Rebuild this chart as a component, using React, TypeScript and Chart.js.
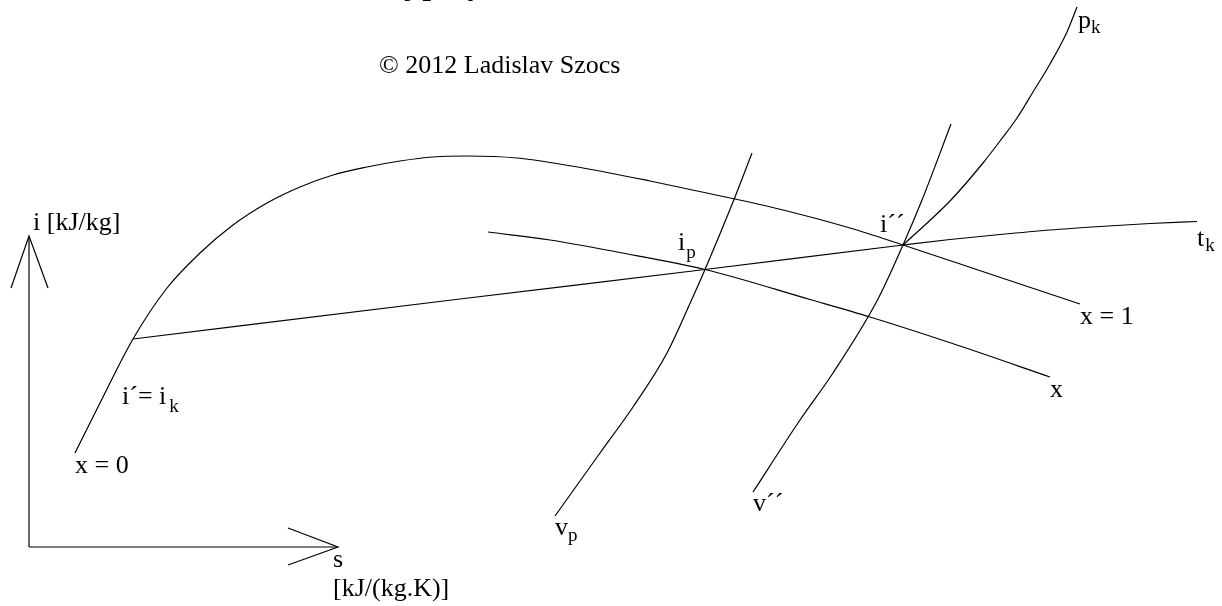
import React, { useEffect, useRef } from "react";
import { Chart, registerables } from "chart.js";

Chart.register(...registerables);

type P = { x: number; y: number };
const pts = (arr: number[][]): P[] => arr.map(([x, y]) => ({ x, y }));

// s-axis range and i-axis range of the schematic (arbitrary units)
const S_RANGE = [0, 1222];
const I_RANGE = [0, 606];

// saturation dome: x = 0 (left branch) and x = 1 (right branch)
const domeCurve = [
  [75, 153], [100, 203], [133, 267], [167, 318], [200, 353], [233, 381],
  [267, 403], [300, 419], [333, 431], [367, 439], [400, 445], [433, 449],
  [467, 450], [517, 448], [583, 438], [650, 425], [735, 407],
  [783, 396], [850, 378], [903, 361], [990, 332], [1080, 302],
];
// isotherm / isobar t_k (wet region straight, superheated curved)
const tkLine = [
  [133, 267], [460, 307], [705, 336.5], [903, 361], [950, 366.5],
  [1000, 371.5], [1050, 376], [1100, 379.5], [1150, 382.5], [1197, 384.5],
];
// constant quality line x
const xLine = [
  [488, 374], [550, 366], [617, 354], [705, 336.5], [810, 306.5],
  [870, 289], [960, 260], [1050, 229],
];
// isochore v_p
const vpLine = [
  [555, 90], [600, 153], [633, 199], [667, 253], [692, 307],
  [705, 336.5], [735, 409], [752, 453],
];
// isochore v''
const vSecLine = [
  [753, 114], [800, 186], [833, 233], [878, 307], [903, 361],
  [922, 406], [951, 482],
];
// isobar p_k in superheated region
const pkLine = [
  [903, 361], [950, 405], [983, 443], [1000, 465], [1017, 488],
  [1033, 514], [1050, 542], [1067, 574], [1077, 599],
];
// coordinate axes with arrows
const iAxis = [[29, 59], [29, 370]];
const iArrow = [[11, 318], [29, 370], [48, 318]];
const sAxis = [[29, 59], [338, 59]];
const sArrow = [[288, 78], [338, 59], [288, 41]];

// labels: [text, subscript, s, i, subOffset, subGap]
const labels: [string, string, number, number, number, number][] = [
  ["i [kJ/kg]", "", 33, 376, 0, 0],
  ["x = 0", "", 75, 133, 0, 0],
  ["i\u00B4= i", "k", 122, 202, 8, 3],
  ["s", "", 333, 39, 0, 0],
  ["[kJ/(kg.K)]", "", 333, 10, 0, 0],
  ["i", "p", 678, 356, 8, 1],
  ["i\u00B4\u00B4", "", 880, 374, 0, 0],
  ["p", "k", 1078, 578, 5, 0],
  ["t", "k", 1197, 360, 5, 1],
  ["x = 1", "", 1080, 282, 0, 0],
  ["x", "", 1050, 209, 0, 0],
  ["v", "p", 555, 71, 6, 0],
  ["v\u00B4\u00B4", "", 753, 95, 0, 0],
  ["\u00A9 2012 Ladislav Szocs", "", 379, 533, 0, 0],
];
const titleText = "Stav mokrej pary";
const titlePos = [258, 611.5];

const FONT = "'Liberation Serif', 'Times New Roman', serif";

const labelPlugin = {
  id: "diagramLabels",
  afterDatasetsDraw(chart: any) {
    const { ctx, scales } = chart;
    const xs = scales.x;
    const ys = scales.y;
    ctx.save();
    ctx.fillStyle = "#000";
    ctx.textBaseline = "alphabetic";
    ctx.textAlign = "left";
    ctx.font = `bold 30px ${FONT}`;
    ctx.fillText(titleText, xs.getPixelForValue(titlePos[0]), ys.getPixelForValue(titlePos[1]));
    for (const [text, sub, s, i, off, gap] of labels) {
      const px = xs.getPixelForValue(s);
      const py = ys.getPixelForValue(i);
      ctx.font = `26px ${FONT}`;
      ctx.fillText(text, px, py);
      if (sub) {
        const w = ctx.measureText(text).width;
        ctx.font = `19px ${FONT}`;
        ctx.fillText(sub, px + w + gap, py + off);
      }
    }
    ctx.restore();
  },
};

export default function App() {
  const ref = useRef<HTMLCanvasElement | null>(null);
  useEffect(() => {
    if (!ref.current) return;
    const line = (data: number[][], smooth: boolean) => ({
      data: pts(data),
      showLine: true,
      borderColor: "#000",
      borderWidth: 1.2,
      pointRadius: 0,
      fill: false,
      tension: 0,
      cubicInterpolationMode: smooth ? "monotone" : "default",
    });
    const chart = new Chart(ref.current, {
      type: "scatter",
      data: {
        datasets: [
          line(domeCurve, true),
          line(tkLine, true),
          line(xLine, true),
          line(vpLine, true),
          line(vSecLine, true),
          line(pkLine, true),
          line(iAxis, false),
          line(iArrow, false),
          line(sAxis, false),
          line(sArrow, false),
        ] as any,
      },
      options: {
        responsive: false,
        animation: false,
        layout: { padding: 0 },
        plugins: { legend: { display: false }, tooltip: { enabled: false }, title: { display: false } },
        scales: {
          x: { type: "linear", min: S_RANGE[0], max: S_RANGE[1], display: false },
          y: { type: "linear", min: I_RANGE[0], max: I_RANGE[1], display: false },
        },
      },
      plugins: [labelPlugin],
    });
    return () => chart.destroy();
  }, []);
  return (
    <div style={{ position: "absolute", left: 0, top: 0, width: 1222, height: 606, background: "#fff" }}>
      <canvas ref={ref} width={1222} height={606} style={{ display: "block" }} />
    </div>
  );
}
